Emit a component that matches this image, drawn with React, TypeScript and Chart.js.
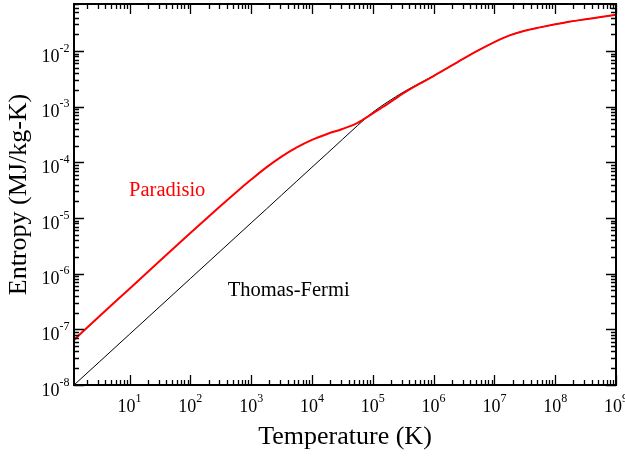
import React, { useEffect, useRef } from "react";
import { Chart, registerables } from "chart.js";

Chart.register(...registerables);

// Temperature grid (K)
const temperatureK = [
  1.22, 3.16, 10, 31.6, 100, 316, 562, 1000, 1780, 3160, 5620,
  1e4, 1.78e4, 3.16e4, 5.62e4, 1e5, 1.78e5, 3.16e5, 5.62e5,
  1e6, 1.78e6, 3.16e6, 5.62e6, 1e7, 1.78e7, 3.16e7, 5.62e7,
  1e8, 1.78e8, 3.16e8, 5.62e8, 1e9,
];

// Entropy (MJ/kg-K)
const paradisioEntropy = [
  6.46e-8, 1.7e-7, 5.37e-7, 1.7e-6, 5.37e-6, 1.66e-5, 2.88e-5, 4.9e-5, 8.13e-5, 1.27e-4, 1.86e-4,
  2.54e-4, 3.24e-4, 3.98e-4, 5.13e-4, 7.59e-4, 1.135e-3, 1.74e-3, 2.51e-3,
  3.55e-3, 5.13e-3, 7.41e-3, 1.05e-2, 1.45e-2, 1.91e-2, 2.32e-2, 2.66e-2,
  3.02e-2, 3.39e-2, 3.72e-2, 4.07e-2, 4.47e-2,
];

const thomasFermiEntropy = [
  1.0e-8, 2.58e-8, 8.17e-8, 2.58e-7, 8.17e-7, 2.58e-6, 4.59e-6, 8.17e-6, 1.45e-5, 2.58e-5, 4.59e-5,
  8.17e-5, 1.45e-4, 2.58e-4, 4.59e-4, 7.94e-4, 1.23e-3, 1.82e-3, 2.57e-3,
  3.59e-3, 5.13e-3, 7.41e-3, 1.05e-2, 1.45e-2, 1.91e-2, 2.32e-2, 2.66e-2,
  3.02e-2, 3.39e-2, 3.72e-2, 4.07e-2, 4.47e-2,
];

// Tick labels (powers of ten)
const xTickExponents = ["1", "2", "3", "4", "5", "6", "7", "8", "9"];
const yTickExponents = ["-8", "-7", "-6", "-5", "-4", "-3", "-2"];

const xMin = 1.22;
const xMax = 1e9;
const yMin = 1e-8;
const yMax = 0.07;

const SERIF = '"Liberation Serif", "Times New Roman", serif';

function drawPower(ctx: CanvasRenderingContext2D, exp: string, x: number, baseline: number, align: "center" | "right") {
  ctx.font = `18px ${SERIF}`;
  const wb = ctx.measureText("10").width;
  ctx.font = `12px ${SERIF}`;
  const we = ctx.measureText(exp).width;
  const left = align === "center" ? x - (wb + we) / 2 : x - (wb + we);
  ctx.textAlign = "left";
  ctx.textBaseline = "alphabetic";
  ctx.font = `18px ${SERIF}`;
  ctx.fillText("10", left, baseline);
  ctx.font = `12px ${SERIF}`;
  ctx.fillText(exp, left + wb, baseline - 10);
}

const sciAxesPlugin = {
  id: "sciAxes",
  afterDraw(chart: any) {
    const { ctx, chartArea: a } = chart;
    const xs = chart.scales.x;
    const ys = chart.scales.y;
    ctx.save();
    ctx.strokeStyle = "#000";
    ctx.fillStyle = "#000";

    // minor / major ticks, inward on all four sides
    ctx.lineWidth = 1.3;
    ctx.beginPath();
    for (let d = 0; d <= 9; d++) {
      for (let m = 1; m <= 9; m++) {
        const v = m * Math.pow(10, d);
        if (v < xMin || v > xMax * 1.0001) continue;
        const len = m === 1 ? 10 : 5;
        const px = Math.round(xs.getPixelForValue(v)) + 0.5;
        ctx.moveTo(px, a.bottom);
        ctx.lineTo(px, a.bottom - len);
        ctx.moveTo(px, a.top);
        ctx.lineTo(px, a.top + len);
      }
    }
    for (let d = -8; d <= -2; d++) {
      for (let m = 1; m <= 9; m++) {
        const v = m * Math.pow(10, d);
        if (v < yMin * 0.9999 || v > yMax) continue;
        const len = m === 1 ? 10 : 5;
        const py = Math.round(ys.getPixelForValue(v)) + 0.5;
        ctx.moveTo(a.left, py);
        ctx.lineTo(a.left + len, py);
        ctx.moveTo(a.right, py);
        ctx.lineTo(a.right - len, py);
      }
    }
    ctx.stroke();

    // frame
    ctx.lineWidth = 2;
    ctx.strokeRect(a.left, a.top, a.right - a.left, a.bottom - a.top);

    // tick labels
    xTickExponents.forEach((e) => {
      const px = xs.getPixelForValue(Math.pow(10, Number(e)));
      drawPower(ctx, e, px, a.bottom + 27, "center");
    });
    yTickExponents.forEach((e) => {
      const py = ys.getPixelForValue(Math.pow(10, Number(e)));
      drawPower(ctx, e, a.left - 4.5, py + 10.5, "right");
    });

    // curve annotations
    ctx.font = `20.5px ${SERIF}`;
    ctx.textAlign = "left";
    ctx.textBaseline = "alphabetic";
    ctx.fillStyle = "#ff0000";
    ctx.fillText("Paradisio", xs.getPixelForValue(10) - 0.5, ys.getPixelForValue(2.5e-5));
    ctx.fillStyle = "#000000";
    ctx.fillText("Thomas-Fermi", xs.getPixelForValue(412), ys.getPixelForValue(4e-7));
    ctx.restore();
  },
};

export default function App() {
  const canvasRef = useRef<HTMLCanvasElement | null>(null);

  useEffect(() => {
    if (!canvasRef.current) return;
    const chart = new Chart(canvasRef.current, {
      type: "line",
      data: {
        datasets: [
          {
            label: "Paradisio",
            data: temperatureK.map((t, i) => ({ x: t, y: paradisioEntropy[i] })),
            borderColor: "#ff0000",
            borderWidth: 2,
            pointRadius: 0,
            cubicInterpolationMode: "monotone",
            fill: false,
          },
          {
            label: "Thomas-Fermi",
            data: temperatureK.map((t, i) => ({ x: t, y: thomasFermiEntropy[i] })),
            borderColor: "#000000",
            borderWidth: 1,
            pointRadius: 0,
            cubicInterpolationMode: "monotone",
            fill: false,
          },
        ],
      },
      options: {
        responsive: false,
        animation: false,
        events: [],
        layout: { padding: { top: 4, right: 9, left: 0, bottom: 0 } },
        plugins: {
          legend: { display: false },
          tooltip: { enabled: false },
        },
        scales: {
          x: {
            type: "logarithmic",
            min: xMin,
            max: xMax,
            grid: { display: false },
            border: { display: false },
            ticks: { display: false },
            title: {
              display: true,
              text: "Temperature (K)",
              color: "#000",
              font: { family: SERIF, size: 26 },
              padding: { top: 4, bottom: 4 },
            },
            afterFit: (scale: any) => {
              scale.height = 72;
            },
          },
          y: {
            type: "logarithmic",
            min: yMin,
            max: yMax,
            grid: { display: false },
            border: { display: false },
            ticks: { display: false },
            title: {
              display: true,
              text: "Entropy (MJ/kg-K)",
              color: "#000",
              font: { family: SERIF, size: 26 },
              padding: { top: 4, bottom: 4 },
            },
            afterFit: (scale: any) => {
              scale.width = 74;
            },
          },
        },
      },
      plugins: [sciAxesPlugin],
    } as any);
    return () => chart.destroy();
  }, []);

  return (
    <div style={{ position: "fixed", left: 0, top: 0, width: 625, height: 457, background: "#fff" }}>
      <canvas ref={canvasRef} width={625} height={457} style={{ width: 625, height: 457, display: "block" }} />
    </div>
  );
}
